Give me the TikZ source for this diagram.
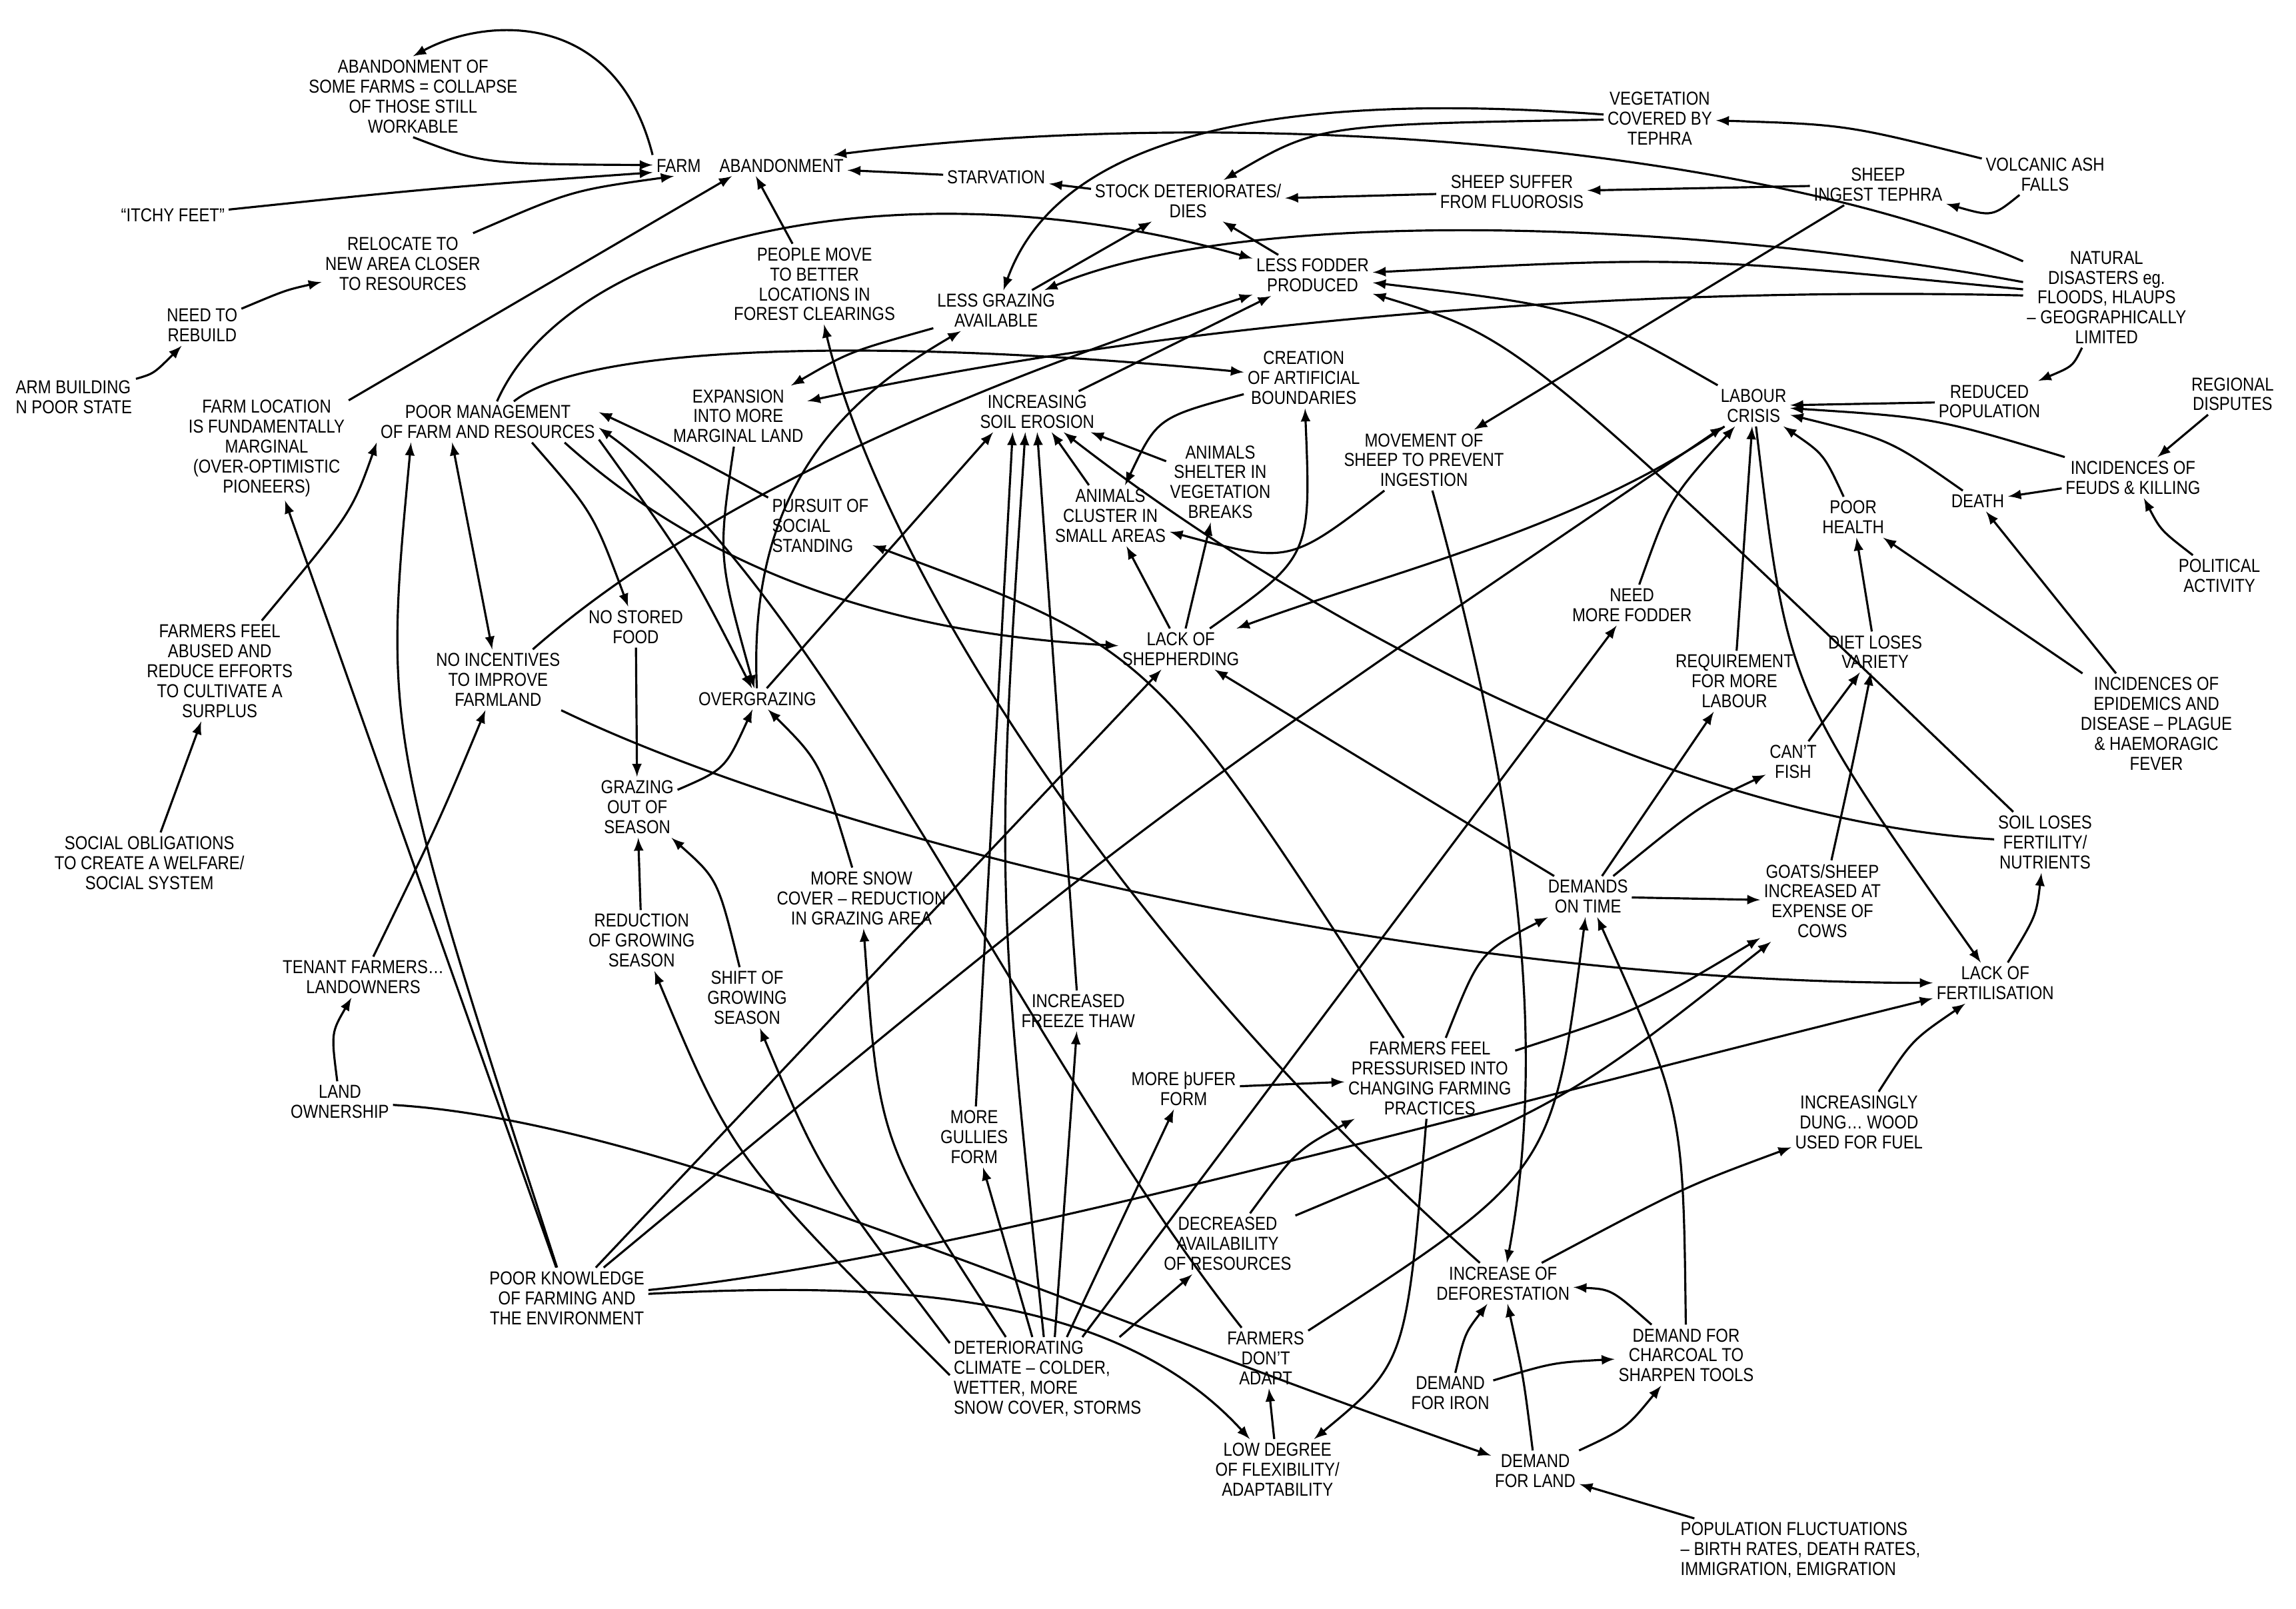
\documentclass[tikz,border=0pt]{standalone}
\usepackage{fontspec}
\setmainfont{Liberation Sans}[FakeStretch=0.85]
\usetikzlibrary{arrows}

\begin{document}
\def\Echelle{0.02198}
\begin{tikzpicture}[x=\Echelle cm,y=-\Echelle cm]
\tikzstyle{lien}=[->,>=latex,line width=0.9pt]
\tikzstyle{liendouble}=[<->,>=latex,line width=0.9pt]
\tikzstyle{facteur}=[align=center,inner sep=1.5pt,font=\fontsize{8}{8.5}\selectfont]
\useasboundingbox (0,0) rectangle (1567.3,1097.8);
\node[facteur] (Abandon) at (282,66) {ABANDONMENT OF\\SOME FARMS = COLLAPSE\\OF THOSE STILL\\WORKABLE};
\node[facteur] (Farm) at (512,113) {FARM\quad ABANDONMENT};
\node[facteur] (Itchy) at (118,147) {“ITCHY FEET”};
\node[facteur] (Reloc) at (275,180) {RELOCATE TO\\NEW AREA CLOSER\\TO RESOURCES};
\node[facteur] (Rebuild) at (138,222) {NEED TO\\REBUILD};
\node[facteur,align=left,anchor=west] (Build) at (8,271) {ARM BUILDING\\N POOR STATE};
\node[facteur] (Loc) at (182,306) {FARM LOCATION\\IS FUNDAMENTALLY\\MARGINAL\\(OVER-OPTIMISTIC\\PIONEERS)};
\node[facteur] (Mgmt) at (333,288) {POOR MANAGEMENT\\OF FARM AND RESOURCES};
\node[facteur] (Move) at (556,194) {PEOPLE MOVE\\TO BETTER\\LOCATIONS IN\\FOREST CLEARINGS};
\node[facteur] (Starv) at (680,121) {STARVATION};
\node[facteur] (Stock) at (811,137) {STOCK DETERIORATES/\\DIES};
\node[facteur] (Fluor) at (1032,131) {SHEEP SUFFER\\FROM FLUOROSIS};
\node[facteur] (Veget) at (1133,81) {VEGETATION\\COVERED BY\\TEPHRA};
\node[facteur] (Ingest) at (1282,126) {SHEEP\\INGEST TEPHRA};
\node[facteur] (Ash) at (1396,119) {VOLCANIC ASH\\FALLS};
\node[facteur] (Grazing) at (680,212) {LESS GRAZING\\AVAILABLE};
\node[facteur] (Fodder) at (896,188) {LESS FODDER\\PRODUCED};
\node[facteur] (Disaster) at (1438,203) {NATURAL\\DISASTERS eg.\\FLOODS, HLAUPS\\– GEOGRAPHICALLY\\LIMITED};
\node[facteur] (Expand) at (504,284) {EXPANSION\\INTO MORE\\MARGINAL LAND};
\node[facteur] (Erosion) at (708,281) {INCREASING\\SOIL EROSION};
\node[facteur] (Bound) at (890,258) {CREATION\\OF ARTIFICIAL\\BOUNDARIES};
\node[facteur] (Cluster) at (758,352) {ANIMALS\\CLUSTER IN\\SMALL AREAS};
\node[facteur] (Shelter) at (833,329) {ANIMALS\\SHELTER IN\\VEGETATION\\BREAKS};
\node[facteur] (Movement) at (972,314) {MOVEMENT OF\\SHEEP TO PREVENT\\INGESTION};
\node[facteur] (Labour) at (1197,277) {LABOUR\\CRISIS};
\node[facteur] (Pop) at (1358,274) {REDUCED\\POPULATION};
\node[facteur] (Disputes) at (1524,269) {REGIONAL\\DISPUTES};
\node[facteur] (Feuds) at (1456,326) {INCIDENCES OF\\FEUDS \& KILLING};
\node[facteur] (Death) at (1350,342) {DEATH};
\node[facteur] (Health) at (1265,353) {POOR\\HEALTH};
\node[facteur] (Politic) at (1515,393) {POLITICAL\\ACTIVITY};
\node[facteur,align=left] (Pursuit) at (560,359) {PURSUIT OF\\SOCIAL\\STANDING};
\node[facteur] (Stored) at (434,428) {NO STORED\\FOOD};
\node[facteur] (Incent) at (340,464) {NO INCENTIVES\\TO IMPROVE\\FARMLAND};
\node[facteur] (Abused) at (150,458) {FARMERS FEEL\\ABUSED AND\\REDUCE EFFORTS\\TO CULTIVATE A\\SURPLUS};
\node[facteur] (Over) at (517,477) {OVERGRAZING};
\node[facteur] (Shep) at (806,443) {LACK OF\\SHEPHERDING};
\node[facteur] (NeedF) at (1114,413) {NEED\\MORE FODDER};
\node[facteur] (ReqL) at (1184,465) {REQUIREMENT\\FOR MORE\\LABOUR};
\node[facteur] (Diet) at (1280,445) {DIET LOSES\\VARIETY};
\node[facteur] (Epid) at (1472,494) {INCIDENCES OF\\EPIDEMICS AND\\DISEASE – PLAGUE\\\& HAEMORAGIC\\FEVER};
\node[facteur] (Fish) at (1224,520) {CAN’T\\FISH};
\node[facteur] (OutSeason) at (435,551) {GRAZING\\OUT OF\\SEASON};
\node[facteur] (Social) at (102,589) {SOCIAL OBLIGATIONS\\TO CREATE A WELFARE/\\SOCIAL SYSTEM};
\node[facteur] (Fertil) at (1396,575) {SOIL LOSES\\FERTILITY/\\NUTRIENTS};
\node[facteur] (Time) at (1084,612) {DEMANDS\\ON TIME};
\node[facteur] (Goats) at (1244,615) {GOATS/SHEEP\\INCREASED AT\\EXPENSE OF\\COWS};
\node[facteur] (Snow) at (588,613) {MORE SNOW\\COVER – REDUCTION\\IN GRAZING AREA};
\node[facteur] (Reduc) at (438,642) {REDUCTION\\OF GROWING\\SEASON};
\node[facteur] (Shift) at (510,681) {SHIFT OF\\GROWING\\SEASON};
\node[facteur] (Tenant) at (248,667) {TENANT FARMERS…\\LANDOWNERS};
\node[facteur] (LackF) at (1362,671) {LACK OF\\FERTILISATION};
\node[facteur] (Freeze) at (736,690) {INCREASED\\FREEZE THAW};
\node[facteur] (Gullies) at (665,776) {MORE\\GULLIES\\FORM};
\node[facteur] (Thufur) at (808,743) {MORE þUFER\\FORM};
\node[facteur] (Pressure) at (976,736) {FARMERS FEEL\\PRESSURISED INTO\\CHANGING FARMING\\PRACTICES};
\node[facteur] (Land) at (232,752) {LAND\\OWNERSHIP};
\node[facteur] (Dung) at (1269,766) {INCREASINGLY\\DUNG… WOOD\\USED FOR FUEL};
\node[facteur] (Resour) at (838,849) {DECREASED\\AVAILABILITY\\OF RESOURCES};
\node[facteur] (Know) at (387,886) {POOR KNOWLEDGE\\OF FARMING AND\\THE ENVIRONMENT};
\node[facteur] (Defor) at (1026,876) {INCREASE OF\\DEFORESTATION};
\node[facteur,align=left] (Climate) at (715,941) {DETERIORATING\\CLIMATE – COLDER,\\WETTER, MORE\\SNOW COVER, STORMS};
\node[facteur] (Adapt) at (864,927) {FARMERS\\DON’T\\ADAPT};
\node[facteur] (Charcoal) at (1151,925) {DEMAND FOR\\CHARCOAL TO\\SHARPEN TOOLS};
\node[facteur] (Iron) at (990,951) {DEMAND\\FOR IRON};
\node[facteur] (Flex) at (872,1003) {LOW DEGREE\\OF FLEXIBILITY/\\ADAPTABILITY};
\node[facteur] (DLand) at (1048,1004) {DEMAND\\FOR LAND};
\node[facteur,align=left] (Popul) at (1229,1058) {POPULATION FLUCTUATIONS\\– BIRTH RATES, DEATH RATES,\\IMMIGRATION, EMIGRATION};
\draw[lien] (Farm.north west) .. controls (420,5) and (330,12) .. (Abandon.north);
\draw[lien] (Abandon.south) .. controls (330,112) .. (Farm);
\draw[lien] (Itchy) .. controls (300,128) .. (Farm);
\draw[lien] (Reloc) .. controls (390,130) .. (Farm);
\draw[lien] (Rebuild) .. controls (195,198) .. (Reloc);
\draw[lien] (Build) .. controls (105,255) .. (Rebuild);
\draw[lien] (Loc) -- (Farm);
\draw[lien] (Mgmt) .. controls (390,160) and (620,110) .. (Fodder);
\draw[lien] (Mgmt) .. controls (400,235) and (600,230) .. (Bound);
\draw[lien] (Move) -- (Farm);
\draw[lien] (Starv) -- (Farm);
\draw[lien] (Stock) -- (Starv);
\draw[lien] (Disaster) .. controls (1200,100) and (850,70) .. (Farm);
\draw[lien] (Veget) .. controls (850,60) and (720,100) .. (Grazing);
\draw[lien] (Veget) .. controls (900,85) .. (Stock);
\draw[lien] (Ash) .. controls (1260,85) .. (Veget);
\draw[lien] (Ash) .. controls (1360,148) .. (Ingest);
\draw[lien] (Ingest) -- (Fluor);
\draw[lien] (Fluor) -- (Stock);
\draw[lien] (Ingest) -- (Movement);
\draw[lien] (Disaster) .. controls (1150,150) and (850,140) .. (Grazing);
\draw[lien] (Disaster) .. controls (1150,175) .. (Fodder);
\draw[lien] (Labour) .. controls (1080,210) .. (Fodder);
\draw[lien] (Disaster) .. controls (1100,195) and (800,220) .. (Expand);
\draw[lien] (Fodder) -- (Stock);
\draw[lien] (Grazing) -- (Stock);
\draw[lien] (Grazing) .. controls (580,240) .. (Expand);
\draw[lien] (Over) .. controls (510,330) and (580,270) .. (Grazing);
\draw[lien] (Erosion) -- (Fodder);
\draw[lien] (Incent) .. controls (470,350) and (640,270) .. (Fodder);
\draw[lien] (Shelter) -- (Erosion);
\draw[lien] (Cluster) -- (Erosion);
\draw[lien] (Bound) .. controls (790,285) .. (Cluster);
\draw[lien] (Shep) -- (Cluster);
\draw[lien] (Shep) -- (Shelter);
\draw[lien] (Shep) .. controls (895,380) .. (Bound);
\draw[lien] (Movement) .. controls (880,385) .. (Cluster);
\draw[lien] (Movement) .. controls (1040,560) and (1055,720) .. (Defor);
\draw[lien] (Mgmt.-15) .. controls (450,360) and (560,430) .. (Shep);
\draw[lien] (Labour) .. controls (1080,360) and (950,390) .. (Shep);
\draw[lien] (Time) -- (Shep);
\draw[lien] (Know) -- (Shep);
\draw[lien] (Know) .. controls (780,560) .. (Labour);
\draw[lien] (NeedF) .. controls (1140,340) .. (Labour);
\draw[lien] (ReqL) -- (Labour);
\draw[lien] (Health) .. controls (1245,310) .. (Labour);
\draw[lien] (Labour) .. controls (1220,470) .. (LackF);
\draw[lien] (Pop) -- (Labour);
\draw[lien] (Feuds) .. controls (1320,285) .. (Labour);
\draw[lien] (Death) .. controls (1290,300) .. (Labour);
\draw[lien] (Disaster) .. controls (1415,250) .. (Pop);
\draw[lien] (Disputes) -- (Feuds);
\draw[lien] (Feuds) -- (Death);
\draw[lien] (Politic) .. controls (1475,362) .. (Feuds);
\draw[lien] (Epid) -- (Death);
\draw[lien] (Epid) -- (Health);
\draw[lien] (Diet) -- (Health);
\draw[lien] (Fish) -- (Diet);
\draw[lien] (Goats) .. controls (1265,520) .. (Diet);
\draw[lien] (Time) -- (ReqL);
\draw[lien] (Time) .. controls (1160,550) .. (Fish);
\draw[lien] (Time) -- (Goats);
\draw[lien] (Fertil) .. controls (1037,231) .. (Fodder);
\draw[lien] (Fertil) .. controls (1150,560) and (900,430) .. (Erosion);
\draw[lien] (LackF) .. controls (1390,625) .. (Fertil);
\draw[lien] (Incent) .. controls (560,570) and (950,670) .. (LackF);
\draw[lien] (Know) .. controls (650,860) and (1000,760) .. (LackF);
\draw[lien] (Dung) .. controls (1305,710) .. (LackF);
\draw[lien] (Defor) .. controls (1150,810) .. (Dung);
\draw[lien] (Charcoal) .. controls (1100,880) .. (Defor);
\draw[lien] (DLand) .. controls (1040,940) .. (Defor);
\draw[lien] (DLand) .. controls (1110,975) .. (Charcoal);
\draw[lien] (Popul) -- (DLand);
\draw[lien] (Iron) .. controls (1060,930) .. (Charcoal);
\draw[lien] (Iron) .. controls (1000,910) .. (Defor);
\draw[lien] (Know) .. controls (600,875) and (760,880) .. (Flex);
\draw[lien] (Land) .. controls (450,765) and (720,890) .. (DLand);
\draw[lien] (Flex) -- (Adapt);
\draw[lien] (Pressure) .. controls (960,930) .. (Flex);
\draw[lien] (Resour) .. controls (885,785) .. (Pressure);
\draw[lien] (Climate.30) -- (Resour);
\draw[lien] (Thufur) -- (Pressure);
\draw[lien] (Climate.65) -- (Thufur);
\draw[lien] (Climate.110) -- (Gullies);
\draw[lien] (Climate.80) -- (Freeze);
\draw[lien] (Climate.95) .. controls (680,600) .. (Erosion.-120);
\draw[lien] (Climate.50) -- (NeedF);
\draw[lien] (Climate.135) .. controls (600,780) .. (Snow);
\draw[lien] (Snow) .. controls (560,520) .. (Over);
\draw[lien] (Climate.160) .. controls (560,800) .. (Shift);
\draw[lien] (Climate.178) .. controls (500,790) .. (Reduc);
\draw[lien] (Stored) -- (OutSeason);
\draw[lien] (OutSeason) .. controls (495,525) .. (Over);
\draw[lien] (Reduc) -- (OutSeason);
\draw[lien] (Shift) .. controls (490,600) .. (OutSeason);
\draw[lien] (Tenant) .. controls (300,560) .. (Incent);
\draw[lien] (Land) .. controls (226,705) .. (Tenant);
\draw[lien] (Abused) .. controls (240,350) .. (Mgmt.south west);
\draw[lien] (Social) -- (Abused);
\draw[lien] (Know) -- (Loc);
\draw[lien] (Know) .. controls (262,500) .. (Mgmt.-165);
\draw[liendouble] (Mgmt.-150) -- (Incent);
\draw[lien] (Adapt) .. controls (700,720) and (560,400) .. (Mgmt.-3);
\draw[lien] (Pursuit) .. controls (470,310) .. (Mgmt.5);
\draw[lien] (Pressure) .. controls (787,443) .. (Pursuit);
\draw[lien] (Defor) .. controls (760,640) and (600,380) .. (Move);
\draw[lien] (Charcoal) .. controls (1149,757) .. (Time);
\draw[lien] (Adapt) .. controls (1060,800) .. (Time);
\draw[lien] (Pressure) .. controls (1010,650) .. (Time);
\draw[lien] (Pressure) .. controls (1118,690) .. (Goats);
\draw[lien] (Resour) .. controls (1072,751) .. (Goats);
\draw[lien] (Over) -- (Erosion.-155);
\draw[lien] (Mgmt.-9) .. controls (470,385) .. (Over);
\draw[lien] (Expand) .. controls (490,380) .. (Over);
\draw[lien] (Mgmt.-25) .. controls (405,350) .. (Stored);
\draw[lien] (Gullies) -- (Erosion.-140);
\draw[lien] (Freeze) -- (Erosion.-90);
\end{tikzpicture}
\end{document}
